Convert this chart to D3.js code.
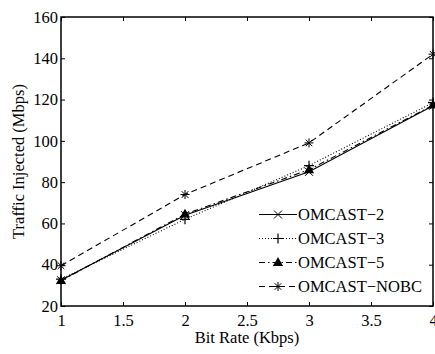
<!DOCTYPE html>
<html><head><meta charset="utf-8">
<script src="https://cdn.jsdelivr.net/npm/d3@7"></script>
<style>
html,body{margin:0;padding:0;background:#fff;}
svg text{font-family:"Liberation Serif","Times New Roman",serif;fill:#000;}
</style></head>
<body>
<svg id="chart" width="435" height="354"></svg>
<script>
const bitRates = [1, 2, 3, 4];
const omcast2 = [32.5, 64, 85, 117];
const omcast3 = [33, 62, 88, 118.5];
const omcast5 = [32.3, 64.5, 86, 117.3];
const omcastNobc = [39.5, 74, 99, 142];
const xTicks = [1, 1.5, 2, 2.5, 3, 3.5, 4];
const yTicks = [20, 40, 60, 80, 100, 120, 140, 160];
const seriesNames = ["OMCAST\u22122", "OMCAST\u22123", "OMCAST\u22125", "OMCAST\u2212NOBC"];

const series = [
  {name: seriesNames[0], values: omcast2, dash: null, marker: "x"},
  {name: seriesNames[1], values: omcast3, dash: "1,2", marker: "plus"},
  {name: seriesNames[2], values: omcast5, dash: "6,3,1.5,3", marker: "tri"},
  {name: seriesNames[3], values: omcastNobc, dash: "6,4", marker: "star"}
];

const FONT = "Liberation Serif";
const svg = d3.select("#chart");
const L = 61, R = 433, T = 17, B = 306;
const x = d3.scaleLinear().domain([1, 4]).range([L, R]);
const y = d3.scaleLinear().domain([20, 160]).range([B, T]);

// box
svg.append("rect").attr("x", L).attr("y", T).attr("width", R - L).attr("height", B - T)
  .attr("fill", "none").attr("stroke", "#000").attr("stroke-width", 1.5);

// axes
const fs = "16.5px";
const xb = svg.append("g").attr("transform", `translate(0,${B})`)
  .call(d3.axisBottom(x).tickValues(xTicks).tickSize(-4).tickPadding(8).tickFormat(d3.format("")));
const xt = svg.append("g").attr("transform", `translate(0,${T})`)
  .call(d3.axisTop(x).tickValues(xTicks).tickSize(-4).tickFormat(""));
const yl = svg.append("g").attr("transform", `translate(${L},0)`)
  .call(d3.axisLeft(y).tickValues(yTicks).tickSize(-4).tickPadding(3));
const yr = svg.append("g").attr("transform", `translate(${R},0)`)
  .call(d3.axisRight(y).tickValues(yTicks).tickSize(-4).tickFormat(""));
[xb, xt, yl, yr].forEach(g => {
  g.attr("font-family", FONT);
  g.select(".domain").remove();
  g.selectAll(".tick line").attr("stroke", "#000").attr("stroke-width", 1);
  g.selectAll("text").attr("font-family", FONT).attr("font-size", fs).attr("fill", "#000");
});
xb.selectAll("text").attr("dy", "0.71em");

// axis titles
svg.append("text").attr("x", (L + R) / 2).attr("y", 343).attr("text-anchor", "middle")
  .attr("font-family", FONT).attr("font-size", fs).text("Bit Rate (Kbps)");
svg.append("text").attr("transform", `translate(24,${(T + B) / 2}) rotate(-90)`)
  .attr("text-anchor", "middle").attr("font-family", FONT).attr("font-size", fs).text("Traffic Injected (Mbps)");

function drawMarker(g, type, cx, cy) {
  const s = 4;
  if (type === "x") {
    g.append("path").attr("d", `M${cx - s},${cy - s}L${cx + s},${cy + s}M${cx - s},${cy + s}L${cx + s},${cy - s}`)
      .attr("stroke", "#000").attr("stroke-width", 1).attr("fill", "none");
  } else if (type === "plus") {
    g.append("path").attr("d", `M${cx - 5},${cy}L${cx + 5},${cy}M${cx},${cy - 5}L${cx},${cy + 5}`)
      .attr("stroke", "#000").attr("stroke-width", 1.2).attr("fill", "none");
  } else if (type === "tri") {
    g.append("path").attr("d", d3.symbol().type(d3.symbolTriangle).size(45)())
      .attr("transform", `translate(${cx},${cy + 0.5})`).attr("fill", "#000");
  } else if (type === "star") {
    const a = 4.5, b = 3.3;
    g.append("path").attr("d", `M${cx - a},${cy}L${cx + a},${cy}M${cx},${cy - a}L${cx},${cy + a}M${cx - b},${cy - b}L${cx + b},${cy + b}M${cx - b},${cy + b}L${cx + b},${cy - b}`)
      .attr("stroke", "#000").attr("stroke-width", 1).attr("fill", "none");
  }
}

const line = d3.line().x((d, i) => x(bitRates[i])).y(d => y(d));
const order = [3, 1, 0, 2];
order.forEach(k => {
  const s = series[k];
  const g = svg.append("g");
  g.append("path").datum(s.values).attr("d", line).attr("fill", "none")
    .attr("stroke", "#000").attr("stroke-width", 1.1)
    .attr("stroke-dasharray", s.dash);
  s.values.forEach((v, i) => drawMarker(g, s.marker, x(bitRates[i]), y(v)));
});

// legend
const lg = svg.append("g");
series.forEach((s, i) => {
  const ly = 214.5 + i * 24;
  lg.append("line").attr("x1", 259).attr("x2", 297).attr("y1", ly).attr("y2", ly)
    .attr("stroke", "#000").attr("stroke-width", 1).attr("stroke-dasharray", s.dash);
  drawMarker(lg, s.marker, 278, ly);
  lg.append("text").attr("x", 298).attr("y", ly).attr("dy", "0.35em")
    .attr("font-family", FONT).attr("font-size", fs).text(s.name);
});
</script>
</body></html>
